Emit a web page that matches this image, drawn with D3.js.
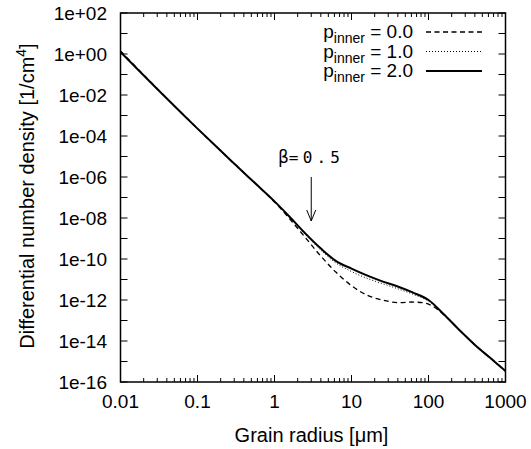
<!DOCTYPE html>
<html><head><meta charset="utf-8">
<script src="https://cdn.jsdelivr.net/npm/d3@7"></script>
<style>body{margin:0;background:#fff}svg{display:block}text{font-family:"Liberation Sans",Arial,sans-serif;fill:#000}</style>
</head><body>
<script>
const radius = [0.01,0.0178,0.0316,0.0562,0.1,0.178,0.316,0.562,1,1.58,2.51,3.98,6.31,10,15.8,25.1,39.8,63.1,100,158,251,398,631,1000];
const p0 = [1.41e0,1.51e-1,1.66e-2,1.91e-3,2.29e-4,2.88e-5,3.72e-6,4.90e-7,6.03e-8,8.91e-9,1.12e-9,1.41e-10,2.24e-11,5.01e-12,1.74e-12,1.0e-12,7.41e-13,7.94e-13,6.31e-13,1.91e-13,3.47e-14,6.61e-15,1.51e-15,3.47e-16];
const p1 = [1.26e0,1.41e-1,1.62e-2,1.91e-3,2.29e-4,2.88e-5,3.72e-6,4.90e-7,6.46e-8,1.07e-8,1.58e-9,2.75e-10,6.31e-11,2.45e-11,1.15e-11,6.31e-12,3.55e-12,1.91e-12,8.91e-13,2.0e-13,3.47e-14,6.61e-15,1.51e-15,3.47e-16];
const p2 = [1.26e0,1.41e-1,1.62e-2,1.91e-3,2.29e-4,2.88e-5,3.72e-6,4.90e-7,6.46e-8,1.12e-8,1.78e-9,3.31e-10,7.94e-11,3.39e-11,1.58e-11,8.13e-12,4.57e-12,2.29e-12,1.0e-12,2.0e-13,3.47e-14,6.61e-15,1.51e-15,3.47e-16];
const legendLabels = ["0.0","1.0","2.0"];
const xTickLabels = ["0.01","0.1","1","10","100","1000"];
const yTickLabels = ["1e+02","1e+00","1e-02","1e-04","1e-06","1e-08","1e-10","1e-12","1e-14","1e-16"];
const annotation = {radius: 3.0, text: "=0.5"};

const W = 531, H = 449;
const L = 120.5, R = 505.5, T = 13, B = 382;
const svg = d3.select("body").append("svg").attr("width", W).attr("height", H);
const x = d3.scaleLog().domain([0.01, 1000]).range([L, R]);
const y = d3.scaleLog().domain([1e-16, 1e2]).range([B, T]);

// ticks
const xMajor = [0.01,0.1,1,10,100,1000];
const xMinor = [];
for (let d = 0.01; d < 1000; d *= 10) for (let k = 2; k <= 9; k++) xMinor.push(d * k);
const yMajor = d3.range(-16, 3).map(e => Math.pow(10, e));
const g = svg.append("g").attr("stroke", "#000").attr("stroke-width", 1);
xMajor.forEach(v => { g.append("line").attr("x1", x(v)).attr("x2", x(v)).attr("y1", B).attr("y2", B - 7);
  g.append("line").attr("x1", x(v)).attr("x2", x(v)).attr("y1", T).attr("y2", T + 7); });
xMinor.forEach(v => { g.append("line").attr("x1", x(v)).attr("x2", x(v)).attr("y1", B).attr("y2", B - 4);
  g.append("line").attr("x1", x(v)).attr("x2", x(v)).attr("y1", T).attr("y2", T + 4); });
yMajor.forEach(v => { g.append("line").attr("y1", y(v)).attr("y2", y(v)).attr("x1", L).attr("x2", L + 7);
  g.append("line").attr("y1", y(v)).attr("y2", y(v)).attr("x1", R).attr("x2", R - 7); });

xTickLabels.forEach(t => svg.append("text").attr("x", x(+t)).attr("y", 408).attr("text-anchor", "middle").attr("font-size", 19).text(t));
yTickLabels.forEach(t => svg.append("text").attr("x", 107).attr("y", y(+t) + 6.5).attr("text-anchor", "end").attr("font-size", 19).text(t));

svg.append("text").attr("x", 311.5).attr("y", 442).attr("text-anchor", "middle").attr("font-size", 20).text("Grain radius [μm]");
const yt = svg.append("text").attr("transform", "translate(33.5,196) rotate(-90)").attr("text-anchor", "middle").attr("font-size", 20);
yt.append("tspan").text("Differential number density [1/cm");
yt.append("tspan").attr("dy", -8).attr("font-size", 14).text("4");
yt.append("tspan").attr("dy", 8).text("]");

// curves
const line = d3.line().x((d, i) => x(radius[i])).y(d => y(d)).curve(d3.curveCatmullRom.alpha(0.5));
const styles = [
  {data: p0, w: 1.3, dash: "5,3.5"},
  {data: p1, w: 1, dash: "1,2"},
  {data: p2, w: 2, dash: null}
];
const plot = svg.append("g");
styles.forEach(s => plot.append("path").attr("d", line(s.data)).attr("fill", "none").attr("stroke", "#000")
  .attr("stroke-width", s.w).attr("stroke-dasharray", s.dash));

// frame
svg.append("rect").attr("x", L).attr("y", T).attr("width", R - L).attr("height", B - T)
  .attr("fill", "none").attr("stroke", "#000").attr("stroke-width", 1.5);

// legend
const ly = [32, 51.5, 71];
styles.forEach((s, i) => {
  const t = svg.append("text").attr("x", 413).attr("y", ly[i] + 6).attr("text-anchor", "end").attr("font-size", 19);
  t.append("tspan").text("p");
  t.append("tspan").attr("dy", 5).attr("font-size", 14).text("inner");
  t.append("tspan").attr("dy", -5).text(" = " + legendLabels[i]);
  svg.append("line").attr("x1", 426).attr("x2", 482).attr("y1", ly[i]).attr("y2", ly[i])
    .attr("stroke", "#000").attr("stroke-width", s.w).attr("stroke-dasharray", s.dash);
});

// annotation arrow
const ax = x(annotation.radius);
svg.append("line").attr("x1", ax).attr("x2", ax).attr("y1", 177).attr("y2", 221).attr("stroke", "#000").attr("stroke-width", 1);
svg.append("path").attr("d", `M${ax - 4.5},${210} L${ax},${221} L${ax + 4.5},${210}`).attr("fill", "none").attr("stroke", "#000").attr("stroke-width", 1);
const at = svg.append("text").attr("x", 278).attr("y", 163).attr("font-size", 17);
at.append("tspan").attr("font-family", "DejaVu Sans").text("β");
at.append("tspan").attr("font-family", "DejaVu Sans Mono").attr("font-size", 16).attr("letter-spacing", 4.2).text(annotation.text);
</script>
</body></html>
